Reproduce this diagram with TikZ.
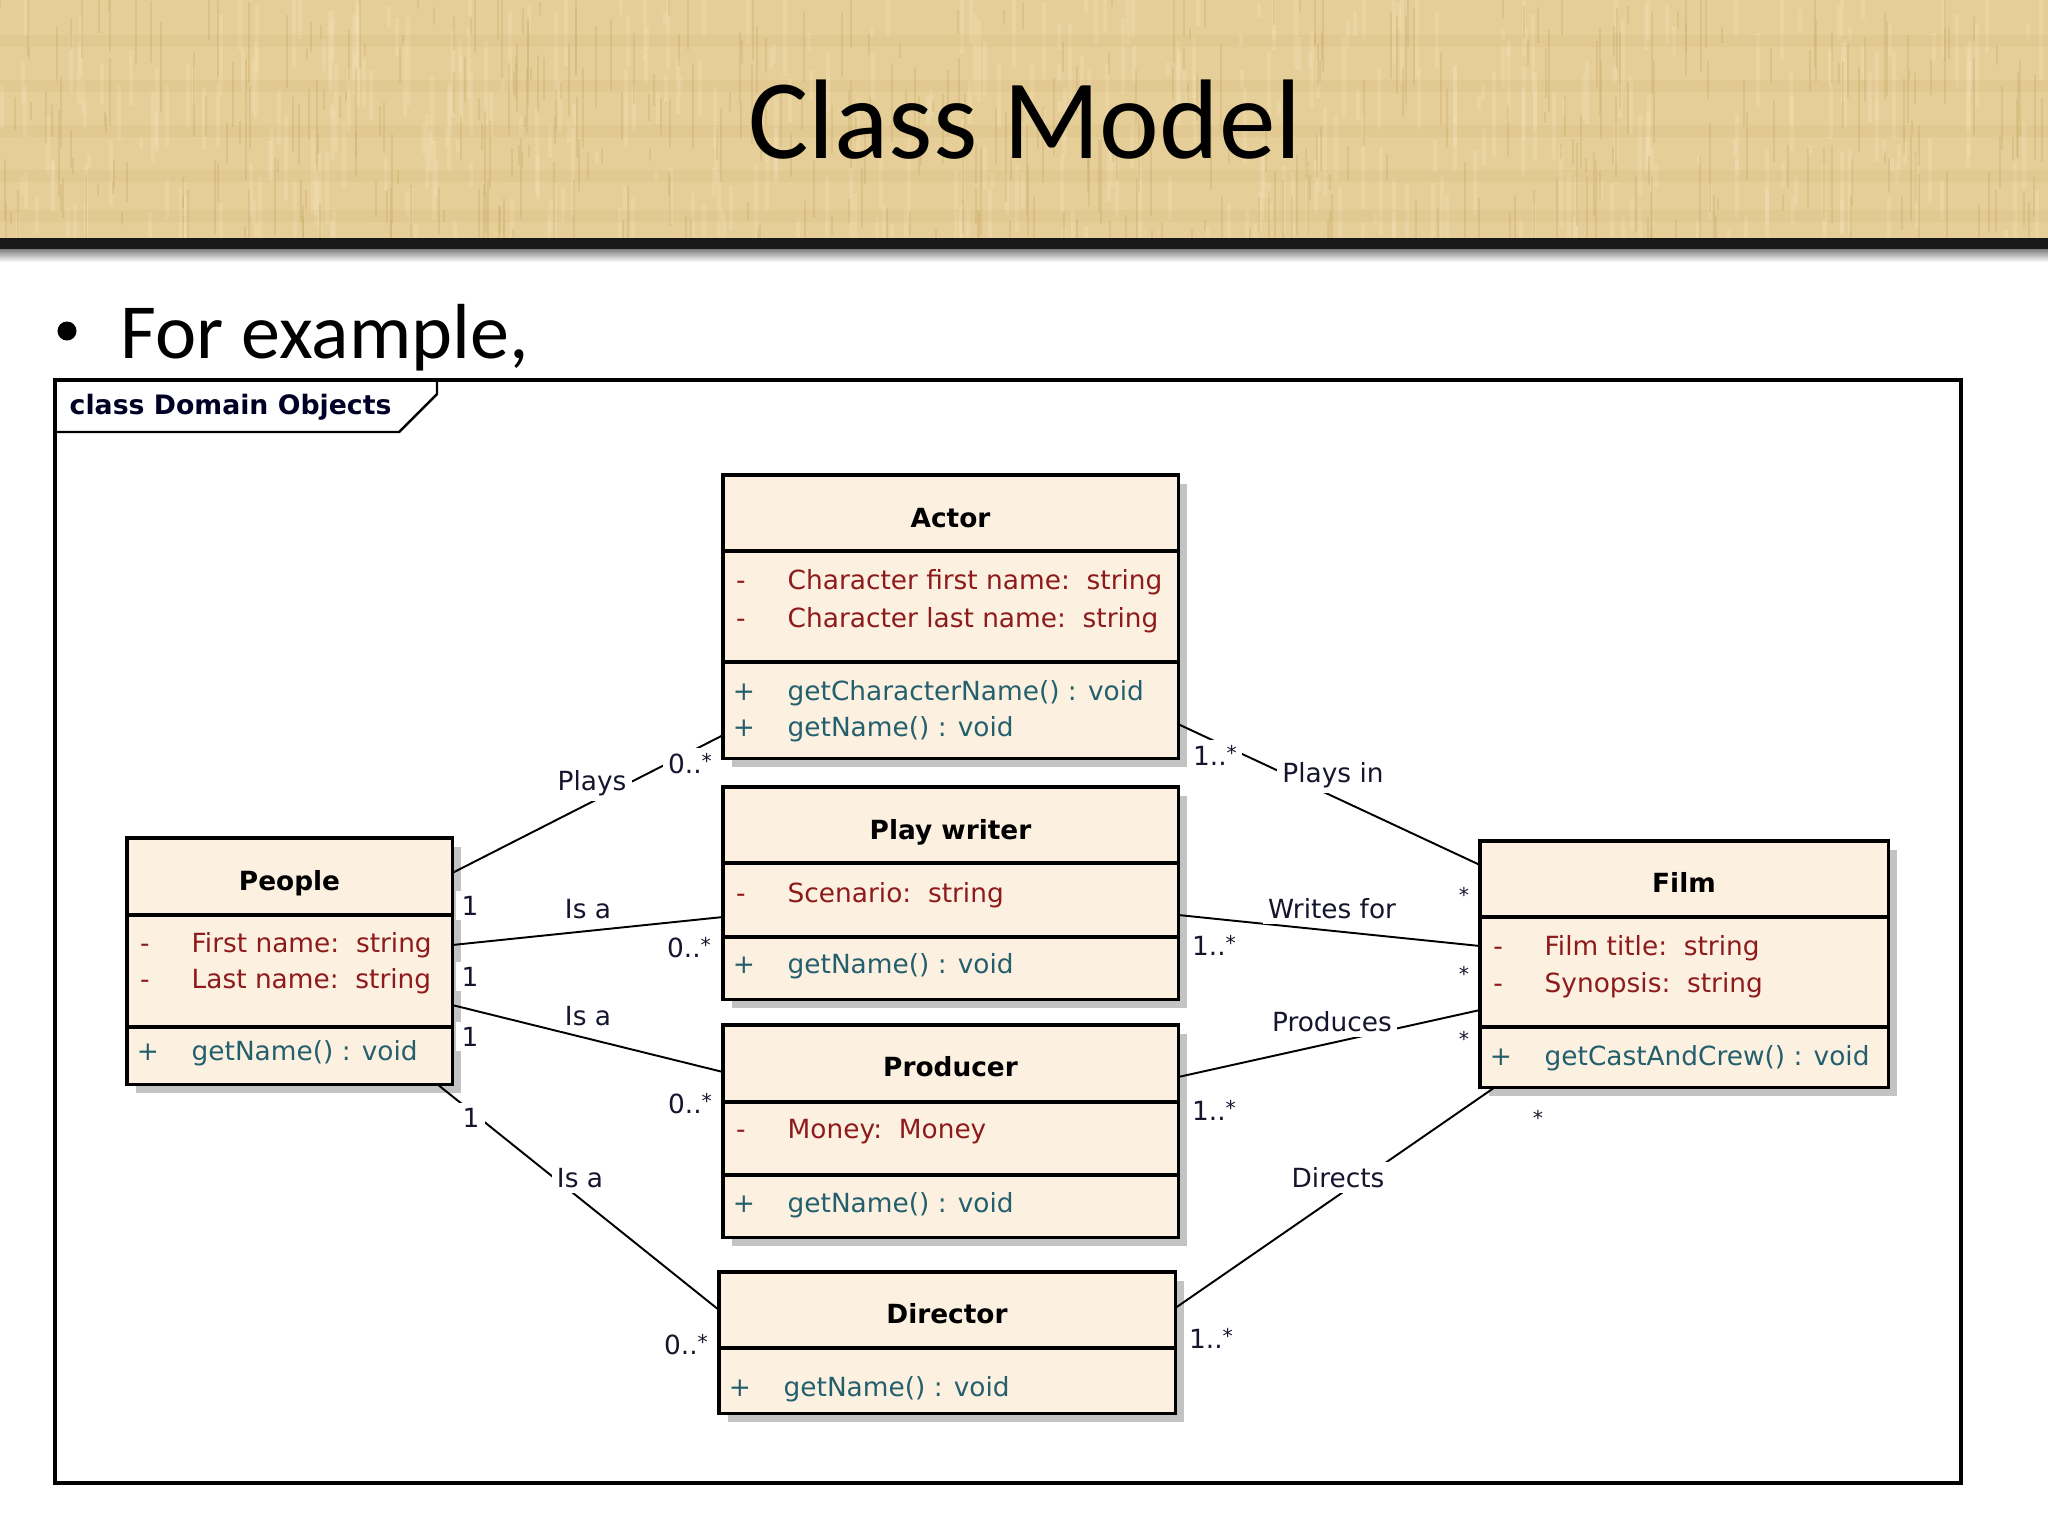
\documentclass[tikz,border=0pt]{standalone}
\usepackage{fontspec}
\setmainfont{DejaVu Sans}
\newfontfamily\calfont{Carlito}
\usetikzlibrary{calc}
\definecolor{boxfill}{HTML}{FCF0E1}
\definecolor{attrred}{HTML}{8E1B1B}
\definecolor{methteal}{HTML}{235F6C}
\definecolor{shadowgray}{HTML}{C3C3C3}
\definecolor{bandbase}{HTML}{E5CE97}
\definecolor{bandlight}{HTML}{F2E2B8}
\definecolor{banddark}{HTML}{C9A968}
\definecolor{labelink}{HTML}{15152E}
\newcommand{\mstar}{{\fontsize{5.8pt}{6pt}\selectfont\raisebox{1.2pt}{*}}}
\tikzset{
  x=0.01cm, y=-0.01cm,
  classbox/.style={draw=black, line width=0.9pt, fill=boxfill, inner sep=0pt, outer sep=0pt, anchor=north west},
  sepline/.style={line width=0.9pt, black},
  uml/.style={font=\fontsize{7.5pt}{9pt}\selectfont, inner sep=0pt, anchor=base west},
  ctitle/.style={font=\bfseries\fontsize{7.5pt}{9pt}\selectfont, inner sep=0pt, anchor=base},
  attr/.style={uml, text=attrred},
  meth/.style={uml, text=methteal},
  asym/.style={uml, text=attrred, anchor=base},
  msym/.style={uml, text=methteal, anchor=base},
  assoc/.style={line width=0.55pt, black},
  lbl/.style={font=\fontsize{7.5pt}{9pt}\selectfont, text=labelink, fill=white, inner sep=1.5pt, anchor=base},
}
\begin{document}
\begin{tikzpicture}
\useasboundingbox (0,0) rectangle (2048,1536);
\fill[white] (0,0) rectangle (2048,1536);
% header band
\fill[bandbase] (0,0) rectangle (2048,238);
\begin{scope}
\clip (0,0) rectangle (2048,238);
\pgfmathsetseed{11}
\foreach \i in {1,...,420}{
  \pgfmathsetmacro{\xx}{random(0,2048)}
  \pgfmathsetmacro{\yy}{random(-20,230)}
  \pgfmathsetmacro{\ll}{random(10,90)}
  \draw[bandlight, line width=1pt, opacity=0.35] (\xx,\yy) -- ++(0,\ll);
}
\foreach \i in {1,...,420}{
  \pgfmathsetmacro{\xx}{random(0,2048)}
  \pgfmathsetmacro{\yy}{random(-20,230)}
  \pgfmathsetmacro{\ll}{random(10,90)}
  \draw[banddark, line width=0.8pt, opacity=0.3] (\xx,\yy) -- ++(0,\ll);
}
\foreach \yy in {35,80,125,170,210}{
  \fill[banddark, opacity=0.12] (0,\yy) rectangle (2048,\yy+12);
}
\end{scope}
\fill[black!90] (0,238) rectangle (2048,249);
\shade[top color=black!50, bottom color=white] (0,249) rectangle (2048,262);
\node[font=\calfont\fontsize{32.2pt}{38pt}\selectfont, anchor=base, inner sep=0pt] (title) at (1025,158) {Class Model};
\node[circle, fill=black, minimum size=0.19cm, inner sep=0pt] (bullet) at (67,331) {};
\node[font=\calfont\fontsize{22.2pt}{26pt}\selectfont, anchor=base west, inner sep=0pt] (intro) at (120,358) {For example,};
% frame
\draw[line width=0.9pt] (55,380) rectangle (1961,1483);
\draw[line width=0.7pt] (55,432) -- (399,432) -- (437,394) -- (437,380);
\node[font=\bfseries\fontsize{7.6pt}{9pt}\selectfont, anchor=base west, inner sep=0pt, text=black!85!blue] (frametitle) at (69,414) {class Domain Objects};
% shadows
\foreach \l/\t/\r/\b in {723/475/1178/758, 723/787/1178/999, 723/1025/1178/1237, 719/1272/1175/1413, 127/838/452/1084, 1480/841/1888/1087}{
  \fill[shadowgray] (\l+9,\t+9) rectangle (\r+9,\b+9);
}
% class boxes
\node[classbox, minimum width=4.55cm, minimum height=2.83cm] (actor) at (723,475) {};
\node[classbox, minimum width=4.55cm, minimum height=2.12cm] (pw) at (723,787) {};
\node[classbox, minimum width=4.55cm, minimum height=2.12cm] (prod) at (723,1025) {};
\node[classbox, minimum width=4.56cm, minimum height=1.41cm] (dir) at (719,1272) {};
\node[classbox, minimum width=3.25cm, minimum height=2.46cm] (people) at (127,838) {};
\node[classbox, minimum width=4.08cm, minimum height=2.46cm] (film) at (1480,841) {};
% separators
\draw[sepline] ($(actor.north west)+(0,76)$) -- ($(actor.north east)+(0,76)$);
\draw[sepline] ($(actor.north west)+(0,187)$) -- ($(actor.north east)+(0,187)$);
\draw[sepline] ($(pw.north west)+(0,76)$) -- ($(pw.north east)+(0,76)$);
\draw[sepline] ($(pw.north west)+(0,150)$) -- ($(pw.north east)+(0,150)$);
\draw[sepline] ($(prod.north west)+(0,77)$) -- ($(prod.north east)+(0,77)$);
\draw[sepline] ($(prod.north west)+(0,150)$) -- ($(prod.north east)+(0,150)$);
\draw[sepline] ($(dir.north west)+(0,76)$) -- ($(dir.north east)+(0,76)$);
\draw[sepline] ($(people.north west)+(0,77)$) -- ($(people.north east)+(0,77)$);
\draw[sepline] ($(people.north west)+(0,189)$) -- ($(people.north east)+(0,189)$);
\draw[sepline] ($(film.north west)+(0,76)$) -- ($(film.north east)+(0,76)$);
\draw[sepline] ($(film.north west)+(0,186)$) -- ($(film.north east)+(0,186)$);
% Actor
\node[ctitle] (actorT) at (950.5,527) {Actor};
\node[asym] (actorS1) at (741,589) {-};
\node[attr] (actorA1) at (787,589) {Character first name:\ \ string};
\node[asym] (actorS2) at (741,627) {-};
\node[attr] (actorA2) at (787,627) {Character last name:\ \ string};
\node[msym] (actorS3) at (744,700) {+};
\node[meth] (actorM1) at (787,700) {getCharacterName() : void};
\node[msym] (actorS4) at (744,736) {+};
\node[meth] (actorM2) at (787,736) {getName() : void};
% Play writer
\node[ctitle] (pwT) at (950.5,839) {Play writer};
\node[asym] (pwS1) at (741,902) {-};
\node[attr] (pwA1) at (787,902) {Scenario:\ \ string};
\node[msym] (pwS2) at (744,973) {+};
\node[meth] (pwM1) at (787,973) {getName() : void};
% Producer
\node[ctitle] (prodT) at (950.5,1076) {Producer};
\node[asym] (prodS1) at (741,1138) {-};
\node[attr] (prodA1) at (787,1138) {Money:\ \ Money};
\node[msym] (prodS2) at (744,1212) {+};
\node[meth] (prodM1) at (787,1212) {getName() : void};
% Director
\node[ctitle] (dirT) at (947,1323) {Director};
\node[msym] (dirS1) at (740,1396) {+};
\node[meth] (dirM1) at (783,1396) {getName() : void};
% People
\node[ctitle] (peopleT) at (289.5,890) {People};
\node[asym] (peopleS1) at (145,952) {-};
\node[attr] (peopleA1) at (191,952) {First name:\ \ string};
\node[asym] (peopleS2) at (145,988) {-};
\node[attr] (peopleA2) at (191,988) {Last name:\ \ string};
\node[msym] (peopleS3) at (148,1060) {+};
\node[meth] (peopleM1) at (191,1060) {getName() : void};
% Film
\node[ctitle] (filmT) at (1684,892) {Film};
\node[asym] (filmS1) at (1498,955) {-};
\node[attr] (filmA1) at (1544,955) {Film title:\ \ string};
\node[asym] (filmS2) at (1498,992) {-};
\node[attr] (filmA2) at (1544,992) {Synopsis:\ \ string};
\node[msym] (filmS3) at (1501,1065) {+};
\node[meth] (filmM1) at (1544,1065) {getCastAndCrew() : void};
% connectors
\draw[assoc] ($(people.north east)+(0,35)$) -- ($(actor.south west)+(0,-23)$);
\draw[assoc] ($(actor.south east)+(0,-34)$) -- ($(film.north west)+(0,24)$);
\draw[assoc] ($(people.north east)+(0,107)$) -- ($(pw.north west)+(0,130)$);
\draw[assoc] ($(people.north east)+(0,167)$) -- ($(prod.north west)+(0,47)$);
\draw[assoc] ($(people.south east)+(-15,0)$) -- ($(dir.north west)+(0,38)$);
\draw[assoc] ($(pw.north east)+(0,128)$) -- ($(film.north west)+(0,105)$);
\draw[assoc] ($(prod.north east)+(0,52)$) -- ($(film.north west)+(0,169)$);
\draw[assoc] ($(dir.north east)+(0,36)$) -- ($(film.south west)+(15,0)$);
% association labels
\node[lbl] (lPlays) at (592,790) {Plays};
\node[lbl] (mPlays1) at (470,915) {1};
\node[lbl] (mPlays2) at (690,773) {0..\mstar};
\node[lbl] (lIsa1) at (588,918) {Is a};
\node[lbl] (mIsa1a) at (470,986) {1};
\node[lbl] (mIsa1b) at (689,957) {0..\mstar};
\node[lbl] (lIsa2) at (588,1025) {Is a};
\node[lbl] (mIsa2a) at (470,1046) {1};
\node[lbl] (mIsa2b) at (690,1113) {0..\mstar};
\node[lbl] (lIsa3) at (580,1187) {Is a};
\node[lbl] (mIsa3a) at (471,1127) {1};
\node[lbl] (mIsa3b) at (686,1354) {0..\mstar};
\node[lbl] (lPlaysIn) at (1333,782) {Plays in};
\node[lbl] (mPlaysIn1) at (1215,765) {1..\mstar};
\node[lbl] (mPlaysIn2) at (1464,907) {\mstar};
\node[lbl] (lWrites) at (1332,918) {Writes for};
\node[lbl] (mWrites1) at (1214,955) {1..\mstar};
\node[lbl] (mWrites2) at (1464,986) {\mstar};
\node[lbl] (lProduces) at (1332,1031) {Produces};
\node[lbl] (mProd1) at (1214,1120) {1..\mstar};
\node[lbl] (mProd2) at (1464,1051) {\mstar};
\node[lbl] (lDirects) at (1338,1187) {Directs};
\node[lbl] (mDir1) at (1211,1348) {1..\mstar};
\node[lbl] (mDir2) at (1538,1130) {\mstar};
\end{tikzpicture}
\end{document}
